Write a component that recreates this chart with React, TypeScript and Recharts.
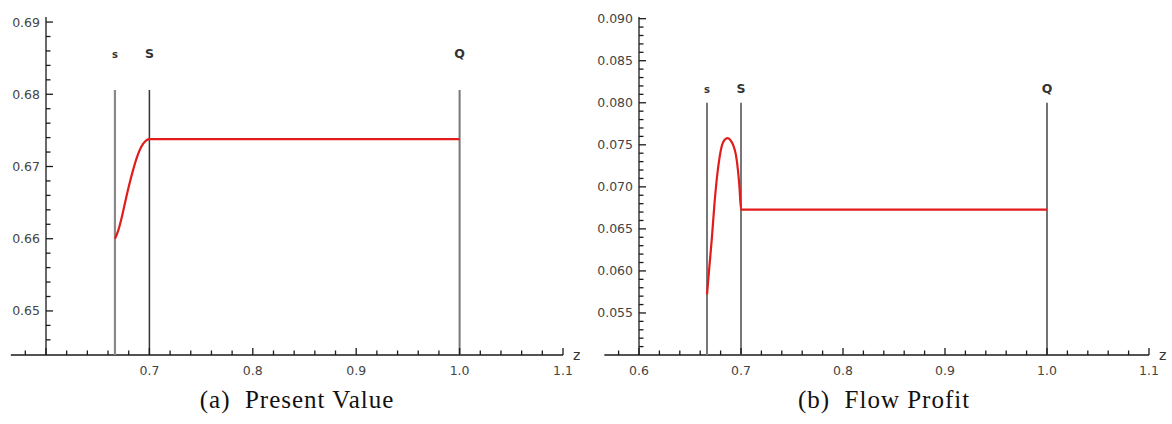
import React from "react";
import { LineChart, Line, XAxis, YAxis, ReferenceLine } from "recharts";

// (a) Present Value
const pvZ = [0.6667, 0.67, 0.673, 0.676, 0.68, 0.684, 0.688, 0.692, 0.696, 0.7, 1.0];
const pvValue = [0.66, 0.6612, 0.6628, 0.6647, 0.6672, 0.6694, 0.6713, 0.6727, 0.6735, 0.6738, 0.6738];
const pvYMajor = [0.65, 0.66, 0.67, 0.68, 0.69];
const pvYDomain = [0.6439, 0.6907];
const pvMarkerTop = 0.6806;

// (b) Flow Profit
const fpZ = [0.6667, 0.669, 0.6715, 0.674, 0.6765, 0.679, 0.6815, 0.684, 0.687, 0.69, 0.6925, 0.695, 0.697, 0.6985, 0.7, 1.0];
const fpValue = [0.0572, 0.0605, 0.064, 0.068, 0.0712, 0.0735, 0.075, 0.0756, 0.0758, 0.0755, 0.0749, 0.0738, 0.072, 0.07, 0.0673, 0.0673];
const fpYMajor = [0.055, 0.06, 0.065, 0.07, 0.075, 0.08, 0.085, 0.09];
const fpYDomain = [0.05, 0.0902];
const fpMarkerTop = 0.08;

// shared x axis
const xMajor = [0.6, 0.7, 0.8, 0.9, 1.0, 1.1];
const xDomain = [0.6, 1.1];
const xAxisStart = 0.566;
const markers = [
  { z: 2 / 3, label: "s" },
  { z: 0.7, label: "S" },
  { z: 1.0, label: "Q" },
];

// minor ticks: split each major interval into 5
function withMinor(majors: number[], before = 0, after = 0) {
  const step = (majors[1] - majors[0]) / 5;
  const out: number[] = [];
  const start = majors[0] - before * step;
  const count = (majors.length - 1) * 5 + before + after;
  for (let i = 0; i <= count; i++) out.push(Math.round((start + i * step) * 1e6) / 1e6);
  return out;
}

const near = (list: number[], v: number) => list.some((m) => Math.abs(m - v) < 1e-7);

const tickFont = { fontFamily: "DejaVu Sans", fontSize: 12.5, fill: "#444" };
const MAJOR_LEN = 7;
const MINOR_LEN = 4.5;

function XTick(props: any) {
  const { x, y, payload, labeled } = props;
  const v = payload.value;
  const major = near(xMajor, v);
  return (
    <g>
      <line x1={x} x2={x} y1={y} y2={y - (major ? MAJOR_LEN : MINOR_LEN)} stroke="#1a1a1a" strokeWidth={1.3} />
      {near(labeled, v) && (
        <text x={x} y={y + 15} textAnchor="middle" dominantBaseline="central" {...tickFont}>
          {v.toFixed(1)}
        </text>
      )}
    </g>
  );
}

function YTick(props: any) {
  const { x, y, payload, majors, digits } = props;
  const v = payload.value;
  const major = near(majors, v);
  return (
    <g>
      <line x1={x} x2={x + (major ? MAJOR_LEN : MINOR_LEN)} y1={y} y2={y} stroke="#1a1a1a" strokeWidth={1.3} />
      {major && (
        <text x={x - 6} y={y} textAnchor="end" dominantBaseline="central" {...tickFont}>
          {v.toFixed(digits)}
        </text>
      )}
    </g>
  );
}

interface PanelProps {
  zs: number[];
  values: number[];
  yMajor: number[];
  yMinorBefore: number;
  yDomain: number[];
  markerTop: number;
  digits: number;
  xLabeled: number[];
  width: number;
  yAxisWidth: number;
  rightMargin: number;
  labelOffset: number;
  markerStyles: { stroke: string; width: number }[];
}

function Panel(p: PanelProps) {
  const data = p.zs.map((z, i) => ({ z, v: p.values[i] }));
  const yTicks = withMinor(p.yMajor, p.yMinorBefore, 0);
  const xTicks = withMinor(xMajor, 1, 0);
  const yMin = p.yDomain[0];
  return (
    <LineChart width={p.width} height={385} data={data} margin={{ top: 17, right: p.rightMargin, bottom: 0, left: 6 }}>
      <XAxis
        type="number"
        dataKey="z"
        domain={xDomain}
        allowDataOverflow
        ticks={xTicks}
        interval={0}
        axisLine={false}
        tickLine={false}
        tickSize={0}
        tickMargin={0}
        height={30}
        tick={(t: any) => <XTick {...t} labeled={p.xLabeled} />}
      />
      <YAxis
        type="number"
        domain={p.yDomain}
        allowDataOverflow
        ticks={yTicks}
        interval={0}
        width={p.yAxisWidth}
        axisLine={{ stroke: "#1a1a1a", strokeWidth: 1.3 }}
        tickLine={false}
        tickSize={0}
        tickMargin={0}
        tick={(t: any) => <YTick {...t} majors={p.yMajor} digits={p.digits} />}
      />
      <ReferenceLine
        segment={[{ x: xAxisStart, y: yMin }, { x: 1.1, y: yMin }]}
        ifOverflow="visible"
        stroke="#1a1a1a"
        strokeWidth={1.3}
        label={{ value: "z", position: "right", offset: 10, fill: "#333", fontFamily: "DejaVu Sans", fontSize: 14 }}
      />
      {markers.map((m, i) => (
        <ReferenceLine
          key={m.label}
          segment={[{ x: m.z, y: yMin }, { x: m.z, y: p.markerTop }]}
          ifOverflow="visible"
          stroke={p.markerStyles[i].stroke}
          strokeWidth={p.markerStyles[i].width}
          label={{
            value: m.label,
            position: "top",
            offset: p.labelOffset,
            fill: "#333",
            fontFamily: "DejaVu Sans",
            fontSize: m.label === "s" ? 10 : 12.5,
            fontWeight: "bold",
          }}
        />
      ))}
      <Line
        type="monotone"
        dataKey="v"
        stroke="#e21b1b"
        strokeWidth={2.2}
        dot={false}
        activeDot={false}
        isAnimationActive={false}
      />
    </LineChart>
  );
}

const captionStyle: React.CSSProperties = {
  position: "absolute",
  top: 386,
  fontFamily: "Liberation Serif",
  fontSize: 25,
  letterSpacing: 1,
  color: "#111",
  whiteSpace: "nowrap",
  transform: "translateX(-50%)",
};

export default function App() {
  return (
    <div style={{ position: "absolute", left: 0, top: 0, width: 1172, height: 424, background: "#fff", overflow: "hidden" }}>
      <div style={{ position: "absolute", left: 0, top: 0 }}>
        <Panel
          zs={pvZ}
          values={pvValue}
          yMajor={pvYMajor}
          yMinorBefore={2}
          yDomain={pvYDomain}
          markerTop={pvMarkerTop}
          digits={2}
          xLabeled={[0.7, 0.8, 0.9, 1.0, 1.1]}
          width={590}
          yAxisWidth={40}
          rightMargin={27}
          labelOffset={32}
          markerStyles={[
            { stroke: "#888", width: 2.2 },
            { stroke: "#333", width: 1.5 },
            { stroke: "#777", width: 2 },
          ]}
        />
      </div>
      <div style={{ position: "absolute", left: 590, top: 0 }}>
        <Panel
          zs={fpZ}
          values={fpValue}
          yMajor={fpYMajor}
          yMinorBefore={4}
          yDomain={fpYDomain}
          markerTop={fpMarkerTop}
          digits={3}
          xLabeled={xMajor}
          width={582}
          yAxisWidth={43}
          rightMargin={23}
          labelOffset={10}
          markerStyles={[
            { stroke: "#777", width: 2 },
            { stroke: "#777", width: 2 },
            { stroke: "#444", width: 1.5 },
          ]}
        />
      </div>
      <div style={{ ...captionStyle, left: 297 }}>(a)&nbsp; Present Value</div>
      <div style={{ ...captionStyle, left: 884 }}>(b)&nbsp; Flow Profit</div>
    </div>
  );
}
